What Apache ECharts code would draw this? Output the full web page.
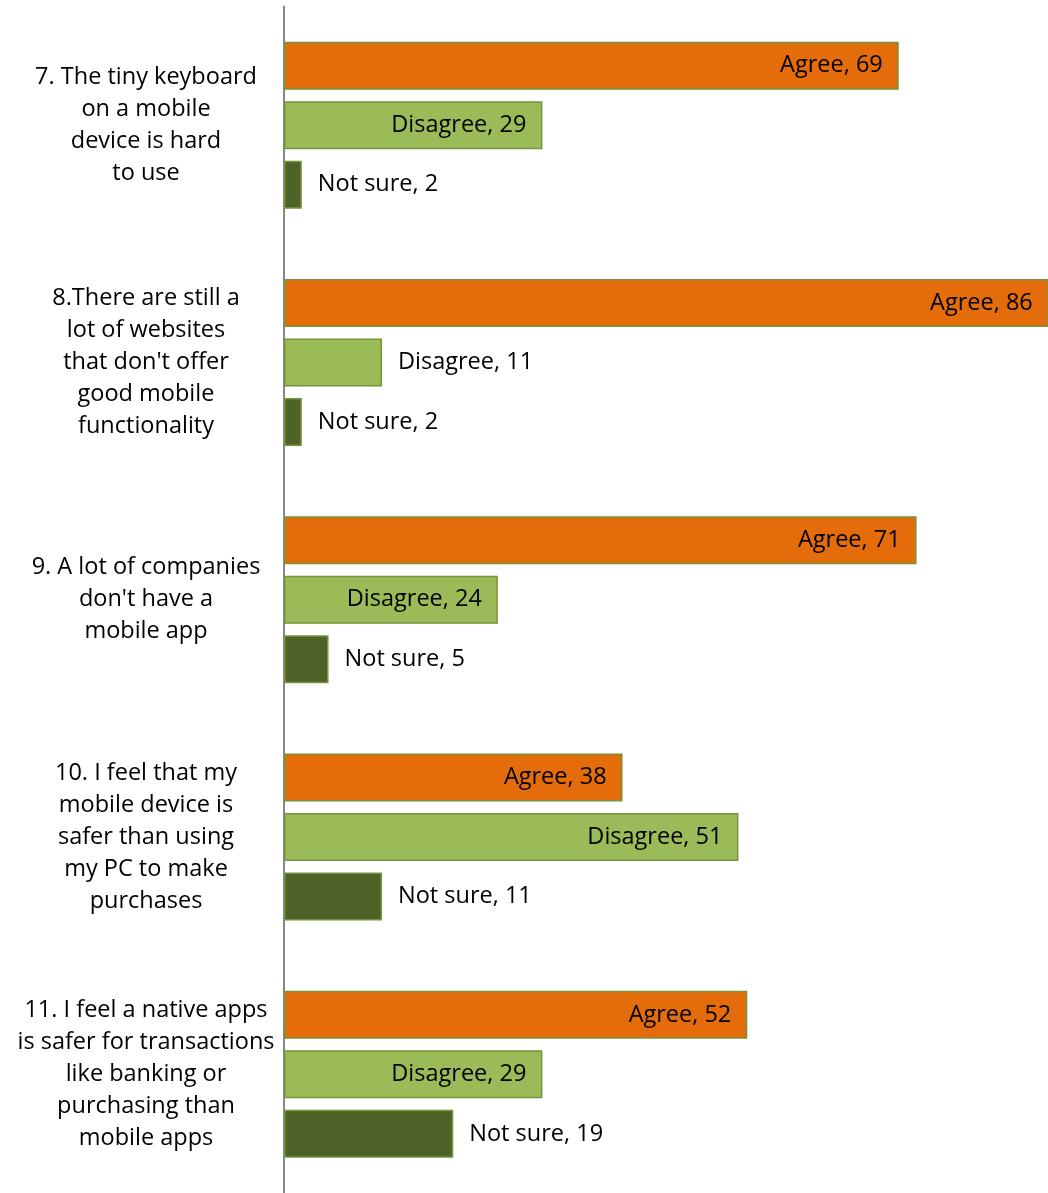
<!DOCTYPE html>
<html>
<head>
<meta charset="utf-8">
<script src="https://cdn.jsdelivr.net/npm/echarts@6/dist/echarts.min.js"></script>
<style>
  html, body { margin: 0; padding: 0; background: #fff; }
  #chart { width: 1048px; height: 1193px; }
</style>
</head>
<body>
<div id="chart"></div>
<script>
// Survey statements (one per group) and the share of answers per response
const statements = [
  "7. The tiny keyboard\non a mobile\ndevice is hard\nto use",
  "8.There are still a\nlot of websites\nthat don't offer\ngood mobile\nfunctionality",
  "9. A lot of companies\ndon't have a\nmobile app",
  "10. I feel that my\nmobile device is\nsafer than using\nmy PC to make\npurchases",
  "11. I feel a native apps\nis safer for transactions\nlike banking or\npurchasing than\nmobile apps"
];
const agree    = [69, 86, 71, 38, 52];
const disagree = [29, 11, 24, 51, 29];
const notSure  = [2, 2, 5, 11, 19];

const FONT = "'Open Sans', sans-serif";

// Long bars carry their label inside, short ones beside the bar end
function withLabels(values) {
  return values.map(v => ({
    value: v,
    label: { position: v >= 20 ? 'insideRight' : 'right' }
  }));
}

function barSeries(name, values, color) {
  return {
    name: name,
    type: 'bar',
    data: withLabels(values),
    barWidth: 48,
    barGap: '24%',
    itemStyle: { color: color, borderColor: '#77933C', borderWidth: 1.5 },
    label: {
      show: true,
      formatter: '{a}, {c}',
      distance: 16,
      color: '#000',
      fontFamily: FONT,
      fontSize: 23.5
    },
    animation: false
  };
}

const chart = echarts.init(document.getElementById('chart'), null, { renderer: 'canvas' });
chart.setOption({
  backgroundColor: '#fff',
  grid: { left: 284, top: 6.5, right: 0, height: 1195, containLabel: false },
  xAxis: {
    type: 'value', min: 0, max: 85.75,
    show: false
  },
  yAxis: {
    type: 'category',
    inverse: true,
    data: statements,
    axisLine: { show: true, lineStyle: { color: '#868686', width: 2 } },
    axisTick: { show: false },
    axisLabel: {
      align: 'center',
      margin: 138,
      color: '#000',
      fontFamily: FONT,
      fontSize: 23.5,
      lineHeight: 32,
      padding: [4, 0, 0, 0]
    }
  },
  series: [
    barSeries('Agree', agree, '#E46C0A'),
    barSeries('Disagree', disagree, '#9BBB59'),
    barSeries('Not sure', notSure, '#4F6228')
  ]
});
</script>
</body>
</html>
